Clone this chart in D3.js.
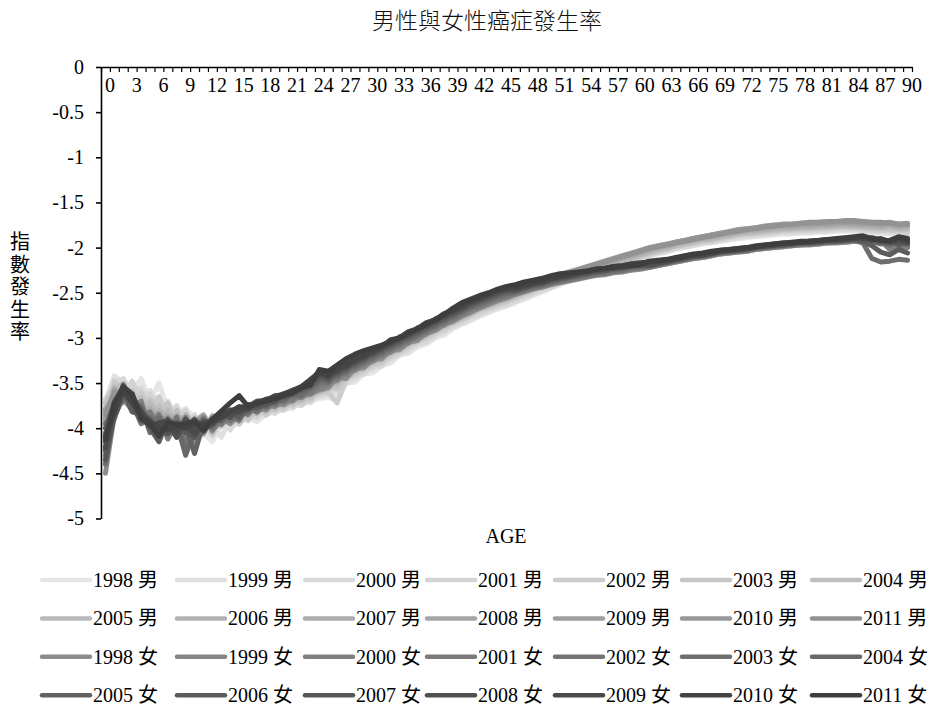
<!DOCTYPE html>
<html>
<head>
<meta charset="utf-8">
<script src="https://cdn.jsdelivr.net/npm/d3@7"></script>
<style>
  html, body { margin: 0; padding: 0; background: #fff; }
  svg { display: block; }
</style>
</head>
<body>
<script>
// Ages 0..90 on the category axis
const ages = d3.range(0, 91);
const ageLabels = ages.filter(a => a % 3 === 0);
const yTicks = [0, -0.5, -1, -1.5, -2, -2.5, -3, -3.5, -4, -4.5, -5];
const years = [1998, 1999, 2000, 2001, 2002, 2003, 2004, 2005, 2006, 2007, 2008, 2009, 2010, 2011];
const sexes = ["男", "女"];

// log10 incidence by age, one array per year and sex
const men1998 = [-3.75,-3.45,-3.48,-3.60,-3.45,-3.70,-3.50,-3.80,-3.85,-3.78,-3.90,-4.05,-4.15,-3.95,-4.00,-3.92,-3.88,-3.93,-3.85,-3.82,-3.80,-3.76,-3.74,-3.70,-3.67,
-3.66,-3.70,-3.50,-3.49,-3.40,-3.39,-3.31,-3.28,-3.19,-3.17,-3.10,-3.07,-3.00,-2.97,-2.90,-2.85,-2.81,-2.76,-2.72,-2.68,
-2.65,-2.61,-2.57,-2.53,-2.49,-2.45,-2.41,-2.37,-2.34,-2.31,-2.28,-2.25,-2.22,-2.19,-2.16,-2.13,-2.10,-2.07,-2.05,-2.02,
-2.00,-1.98,-1.96,-1.95,-1.93,-1.92,-1.90,-1.89,-1.88,-1.87,-1.86,-1.85,-1.85,-1.84,-1.84,-1.83,-1.83,-1.82,-1.82,-1.82,
-1.83,-1.84,-1.84,-1.85,-1.84,-1.86];
const men1999 = [-3.70,-3.42,-3.50,-3.55,-3.65,-3.58,-3.75,-3.70,-3.92,-3.85,-4.00,-3.88,-3.95,-4.10,-3.90,-3.96,-3.85,-3.90,-3.80,-3.84,-3.77,-3.78,-3.70,-3.72,-3.64,
-3.58,-3.62,-3.47,-3.46,-3.38,-3.36,-3.29,-3.25,-3.18,-3.15,-3.08,-3.05,-2.98,-2.94,-2.88,-2.84,-2.79,-2.75,-2.70,-2.67,
-2.64,-2.60,-2.56,-2.52,-2.48,-2.44,-2.40,-2.36,-2.33,-2.30,-2.27,-2.24,-2.21,-2.18,-2.15,-2.12,-2.09,-2.06,-2.04,-2.01,
-1.99,-1.97,-1.95,-1.94,-1.92,-1.91,-1.89,-1.88,-1.87,-1.86,-1.85,-1.84,-1.84,-1.83,-1.83,-1.82,-1.82,-1.81,-1.81,-1.81,
-1.82,-1.83,-1.82,-1.84,-1.83,-1.85];
const men2000 = [-3.80,-3.50,-3.45,-3.62,-3.55,-3.72,-3.68,-3.85,-3.75,-3.95,-3.85,-4.08,-3.92,-3.88,-4.02,-3.85,-3.92,-3.82,-3.86,-3.78,-3.80,-3.72,-3.75,-3.66,-3.65,
-3.62,-3.54,-3.51,-3.42,-3.40,-3.32,-3.31,-3.22,-3.19,-3.12,-3.07,-3.04,-2.97,-2.93,-2.87,-2.83,-2.78,-2.73,-2.70,-2.66,
-2.63,-2.59,-2.55,-2.51,-2.47,-2.44,-2.40,-2.36,-2.33,-2.30,-2.27,-2.24,-2.21,-2.18,-2.15,-2.12,-2.09,-2.06,-2.04,-2.01,
-1.99,-1.97,-1.95,-1.94,-1.92,-1.90,-1.88,-1.87,-1.86,-1.85,-1.84,-1.83,-1.83,-1.82,-1.82,-1.81,-1.81,-1.80,-1.80,-1.80,
-1.81,-1.82,-1.83,-1.82,-1.83,-1.84];
const men2001 = [-3.68,-3.55,-3.60,-3.48,-3.70,-3.62,-3.82,-3.78,-3.88,-3.80,-4.05,-3.92,-4.02,-3.85,-3.95,-3.90,-3.80,-3.88,-3.78,-3.82,-3.74,-3.76,-3.68,-3.70,-3.60,
-3.55,-3.58,-3.45,-3.43,-3.35,-3.33,-3.26,-3.22,-3.15,-3.12,-3.05,-3.02,-2.95,-2.91,-2.85,-2.81,-2.76,-2.71,-2.68,-2.64,
-2.61,-2.57,-2.53,-2.49,-2.45,-2.43,-2.39,-2.35,-2.32,-2.29,-2.26,-2.23,-2.20,-2.17,-2.14,-2.11,-2.08,-2.05,-2.03,-2.00,
-1.98,-1.96,-1.94,-1.93,-1.91,-1.89,-1.87,-1.86,-1.85,-1.84,-1.83,-1.82,-1.82,-1.81,-1.81,-1.80,-1.80,-1.79,-1.79,-1.79,
-1.80,-1.81,-1.80,-1.82,-1.81,-1.83];
const men2002 = [-3.85,-3.48,-3.58,-3.70,-3.60,-3.80,-3.65,-3.90,-3.82,-3.98,-3.88,-3.95,-4.08,-3.90,-3.85,-3.95,-3.84,-3.78,-3.85,-3.76,-3.79,-3.70,-3.73,-3.64,-3.62,
-3.60,-3.72,-3.46,-3.39,-3.37,-3.29,-3.28,-3.19,-3.16,-3.09,-3.04,-3.00,-2.94,-2.90,-2.84,-2.80,-2.75,-2.70,-2.67,-2.63,
-2.60,-2.56,-2.52,-2.48,-2.44,-2.42,-2.38,-2.34,-2.31,-2.28,-2.25,-2.22,-2.19,-2.16,-2.13,-2.10,-2.07,-2.04,-2.02,-1.99,
-1.97,-1.95,-1.93,-1.92,-1.90,-1.88,-1.86,-1.85,-1.84,-1.83,-1.82,-1.81,-1.81,-1.80,-1.80,-1.79,-1.79,-1.78,-1.78,-1.78,
-1.79,-1.80,-1.81,-1.80,-1.82,-1.81];
const men2003 = [-3.72,-3.52,-3.62,-3.58,-3.78,-3.68,-3.86,-3.72,-3.95,-3.86,-3.98,-4.02,-3.88,-3.98,-3.86,-3.82,-3.90,-3.80,-3.75,-3.80,-3.72,-3.74,-3.66,-3.68,-3.58,
-3.52,-3.56,-3.42,-3.40,-3.32,-3.30,-3.23,-3.19,-3.12,-3.09,-3.02,-2.99,-2.92,-2.88,-2.83,-2.79,-2.74,-2.69,-2.66,-2.62,
-2.59,-2.55,-2.51,-2.47,-2.43,-2.41,-2.37,-2.33,-2.30,-2.27,-2.24,-2.21,-2.18,-2.15,-2.12,-2.09,-2.06,-2.03,-2.01,-1.98,
-1.96,-1.94,-1.92,-1.91,-1.89,-1.87,-1.85,-1.84,-1.83,-1.82,-1.81,-1.80,-1.80,-1.79,-1.79,-1.78,-1.78,-1.77,-1.77,-1.77,
-1.78,-1.79,-1.78,-1.80,-1.79,-1.80];
const men2004 = [-3.90,-3.58,-3.50,-3.72,-3.66,-3.85,-3.75,-3.95,-3.80,-4.05,-3.92,-3.85,-4.00,-3.86,-3.92,-3.80,-3.86,-3.76,-3.82,-3.72,-3.76,-3.68,-3.70,-3.62,-3.60,
-3.57,-3.48,-3.45,-3.36,-3.34,-3.26,-3.25,-3.16,-3.13,-3.06,-3.01,-2.97,-2.91,-2.87,-2.82,-2.78,-2.73,-2.68,-2.65,-2.61,
-2.58,-2.54,-2.50,-2.46,-2.42,-2.41,-2.37,-2.33,-2.30,-2.27,-2.24,-2.21,-2.18,-2.15,-2.12,-2.09,-2.06,-2.03,-2.01,-1.98,
-1.96,-1.94,-1.92,-1.91,-1.89,-1.87,-1.85,-1.84,-1.83,-1.82,-1.81,-1.80,-1.79,-1.79,-1.78,-1.78,-1.77,-1.77,-1.76,-1.77,
-1.77,-1.78,-1.79,-1.78,-1.80,-1.79];
const men2005 = [-3.78,-3.60,-3.66,-3.64,-3.82,-3.72,-3.90,-3.80,-3.98,-3.90,-4.02,-3.94,-3.90,-3.95,-3.82,-3.88,-3.78,-3.84,-3.72,-3.78,-3.70,-3.72,-3.64,-3.65,-3.56,
-3.49,-3.52,-3.38,-3.37,-3.29,-3.27,-3.20,-3.16,-3.09,-3.06,-2.99,-2.96,-2.89,-2.85,-2.81,-2.77,-2.72,-2.67,-2.64,-2.60,
-2.57,-2.53,-2.49,-2.45,-2.41,-2.40,-2.36,-2.32,-2.29,-2.26,-2.23,-2.20,-2.17,-2.14,-2.11,-2.08,-2.05,-2.02,-2.00,-1.97,
-1.95,-1.93,-1.91,-1.90,-1.88,-1.86,-1.84,-1.83,-1.82,-1.81,-1.80,-1.79,-1.79,-1.78,-1.78,-1.77,-1.77,-1.76,-1.76,-1.76,
-1.77,-1.77,-1.78,-1.77,-1.79,-1.78];
const men2006 = [-3.95,-3.55,-3.70,-3.68,-3.75,-3.90,-3.80,-3.88,-4.05,-3.85,-3.96,-4.06,-3.86,-3.92,-3.88,-3.78,-3.84,-3.74,-3.80,-3.70,-3.73,-3.66,-3.68,-3.58,-3.55,
-3.54,-3.45,-3.42,-3.33,-3.31,-3.23,-3.22,-3.13,-3.10,-3.03,-2.98,-2.94,-2.88,-2.84,-2.79,-2.75,-2.70,-2.65,-2.62,-2.58,
-2.55,-2.51,-2.47,-2.43,-2.39,-2.37,-2.34,-2.31,-2.28,-2.25,-2.22,-2.19,-2.16,-2.13,-2.10,-2.07,-2.04,-2.01,-1.99,-1.96,
-1.94,-1.92,-1.90,-1.89,-1.87,-1.85,-1.83,-1.82,-1.81,-1.80,-1.79,-1.78,-1.78,-1.77,-1.77,-1.76,-1.76,-1.75,-1.75,-1.75,
-1.76,-1.76,-1.77,-1.76,-1.78,-1.77];
const men2007 = [-3.82,-3.62,-3.58,-3.75,-3.85,-3.78,-3.92,-3.86,-3.92,-4.08,-3.90,-3.98,-3.94,-3.84,-3.90,-3.84,-3.76,-3.80,-3.70,-3.74,-3.68,-3.69,-3.62,-3.60,-3.52,
-3.46,-3.49,-3.35,-3.34,-3.26,-3.24,-3.17,-3.13,-3.06,-3.03,-2.96,-2.93,-2.86,-2.82,-2.78,-2.74,-2.69,-2.64,-2.61,-2.57,
-2.54,-2.50,-2.46,-2.42,-2.38,-2.36,-2.33,-2.30,-2.27,-2.24,-2.21,-2.18,-2.15,-2.12,-2.09,-2.06,-2.03,-2.00,-1.98,-1.95,
-1.93,-1.91,-1.89,-1.88,-1.86,-1.84,-1.82,-1.81,-1.80,-1.79,-1.78,-1.77,-1.77,-1.76,-1.76,-1.75,-1.75,-1.74,-1.74,-1.74,
-1.75,-1.75,-1.76,-1.75,-1.77,-1.76];
const men2008 = [-3.88,-3.65,-3.72,-3.70,-3.92,-3.82,-3.88,-3.96,-3.86,-3.95,-4.10,-3.90,-3.96,-3.88,-3.82,-3.86,-3.80,-3.72,-3.76,-3.68,-3.70,-3.62,-3.64,-3.56,-3.50,
-3.51,-3.42,-3.39,-3.30,-3.28,-3.20,-3.19,-3.10,-3.07,-3.00,-2.95,-2.91,-2.85,-2.81,-2.77,-2.73,-2.68,-2.63,-2.60,-2.56,
-2.53,-2.49,-2.45,-2.41,-2.37,-2.35,-2.32,-2.29,-2.26,-2.23,-2.20,-2.17,-2.14,-2.11,-2.08,-2.05,-2.02,-1.99,-1.97,-1.94,
-1.92,-1.90,-1.88,-1.87,-1.85,-1.83,-1.81,-1.80,-1.79,-1.78,-1.77,-1.76,-1.76,-1.75,-1.75,-1.74,-1.74,-1.73,-1.73,-1.73,
-1.74,-1.74,-1.75,-1.74,-1.76,-1.75];
const men2009 = [-3.92,-3.58,-3.68,-3.80,-3.78,-3.95,-3.84,-4.00,-3.90,-4.02,-3.94,-3.86,-4.04,-3.82,-3.88,-3.78,-3.82,-3.74,-3.72,-3.70,-3.66,-3.64,-3.60,-3.55,-3.48,
-3.43,-3.46,-3.32,-3.31,-3.23,-3.21,-3.14,-3.10,-3.03,-3.00,-2.93,-2.90,-2.83,-2.79,-2.75,-2.71,-2.67,-2.62,-2.59,-2.55,
-2.52,-2.48,-2.44,-2.40,-2.36,-2.34,-2.31,-2.28,-2.25,-2.22,-2.19,-2.16,-2.13,-2.10,-2.07,-2.04,-2.01,-1.99,-1.97,-1.94,
-1.92,-1.90,-1.88,-1.86,-1.84,-1.83,-1.81,-1.79,-1.78,-1.77,-1.76,-1.75,-1.75,-1.74,-1.74,-1.73,-1.73,-1.72,-1.72,-1.72,
-1.73,-1.73,-1.74,-1.73,-1.75,-1.74];
const men2010 = [-3.80,-3.66,-3.62,-3.74,-3.88,-3.85,-3.96,-3.88,-3.98,-3.92,-3.98,-4.04,-3.90,-3.90,-3.80,-3.82,-3.74,-3.78,-3.70,-3.68,-3.64,-3.62,-3.58,-3.52,-3.46,
-3.48,-3.39,-3.36,-3.27,-3.25,-3.17,-3.16,-3.07,-3.04,-2.97,-2.92,-2.88,-2.82,-2.78,-2.74,-2.70,-2.66,-2.61,-2.58,-2.54,
-2.51,-2.47,-2.43,-2.39,-2.36,-2.33,-2.30,-2.27,-2.24,-2.21,-2.18,-2.15,-2.12,-2.09,-2.06,-2.03,-2.00,-1.98,-1.96,-1.94,
-1.92,-1.90,-1.88,-1.86,-1.84,-1.82,-1.80,-1.79,-1.78,-1.76,-1.75,-1.74,-1.74,-1.73,-1.73,-1.72,-1.72,-1.71,-1.71,-1.71,
-1.72,-1.72,-1.73,-1.72,-1.74,-1.73];
const men2011 = [-3.85,-3.60,-3.65,-3.75,-3.80,-3.90,-3.85,-3.95,-3.90,-4.00,-3.92,-3.98,-3.88,-3.85,-3.80,-3.78,-3.74,-3.76,-3.70,-3.66,-3.62,-3.60,-3.55,-3.50,-3.46,
-3.40,-3.41,-3.31,-3.29,-3.21,-3.18,-3.11,-3.08,-3.01,-2.98,-2.91,-2.88,-2.82,-2.78,-2.73,-2.69,-2.65,-2.61,-2.57,-2.53,
-2.50,-2.46,-2.43,-2.40,-2.37,-2.34,-2.31,-2.28,-2.25,-2.22,-2.19,-2.16,-2.13,-2.10,-2.07,-2.04,-2.01,-1.99,-1.97,-1.95,
-1.93,-1.91,-1.89,-1.87,-1.85,-1.83,-1.82,-1.80,-1.79,-1.77,-1.76,-1.75,-1.74,-1.73,-1.72,-1.72,-1.71,-1.71,-1.70,-1.70,
-1.71,-1.72,-1.72,-1.73,-1.74,-1.74];

const women1998 = [-4.50,-3.85,-3.60,-3.70,-3.80,-3.95,-3.90,-4.05,-3.98,-4.10,-3.95,-4.00,-3.92,-3.88,-3.95,-3.85,-3.82,-3.78,-3.80,-3.72,-3.74,-3.68,-3.65,-3.62,-3.58,
-3.55,-3.44,-3.45,-3.34,-3.33,-3.24,-3.23,-3.14,-3.13,-3.05,-3.03,-2.95,-2.92,-2.85,-2.82,-2.76,-2.72,-2.67,-2.63,-2.59,
-2.56,-2.52,-2.49,-2.46,-2.44,-2.41,-2.39,-2.37,-2.35,-2.33,-2.31,-2.30,-2.28,-2.27,-2.25,-2.24,-2.22,-2.20,-2.18,-2.16,
-2.14,-2.12,-2.11,-2.09,-2.07,-2.06,-2.05,-2.04,-2.02,-2.01,-2.00,-1.99,-1.98,-1.97,-1.97,-1.96,-1.95,-1.95,-1.94,-1.93,
-1.92,-1.95,-1.94,-1.97,-1.96,-1.99];
const women1999 = [-4.20,-3.78,-3.68,-3.62,-3.92,-3.85,-4.05,-3.90,-4.10,-3.95,-4.15,-3.92,-3.98,-3.85,-3.90,-3.88,-3.78,-3.82,-3.74,-3.76,-3.70,-3.70,-3.62,-3.60,-3.55,
-3.49,-3.47,-3.38,-3.36,-3.29,-3.26,-3.19,-3.16,-3.09,-3.06,-2.99,-2.96,-2.89,-2.86,-2.79,-2.75,-2.70,-2.66,-2.62,-2.58,
-2.55,-2.51,-2.48,-2.45,-2.43,-2.40,-2.38,-2.36,-2.34,-2.32,-2.30,-2.29,-2.27,-2.26,-2.24,-2.23,-2.22,-2.20,-2.18,-2.16,
-2.14,-2.12,-2.11,-2.09,-2.07,-2.06,-2.05,-2.04,-2.02,-2.01,-2.00,-1.99,-1.98,-1.97,-1.96,-1.96,-1.95,-1.94,-1.94,-1.93,
-1.94,-1.93,-1.96,-1.95,-1.98,-1.97];
const women2000 = [-4.05,-3.90,-3.55,-3.78,-3.70,-4.00,-3.85,-4.12,-3.92,-4.05,-4.00,-3.88,-4.02,-3.92,-3.84,-3.92,-3.75,-3.80,-3.76,-3.70,-3.72,-3.64,-3.66,-3.58,-3.56,
-3.52,-3.42,-3.41,-3.32,-3.30,-3.22,-3.20,-3.12,-3.10,-3.03,-3.00,-2.93,-2.90,-2.83,-2.80,-2.74,-2.69,-2.65,-2.61,-2.57,
-2.54,-2.51,-2.48,-2.45,-2.43,-2.40,-2.38,-2.36,-2.34,-2.32,-2.30,-2.29,-2.27,-2.26,-2.24,-2.23,-2.21,-2.19,-2.17,-2.15,
-2.13,-2.11,-2.10,-2.08,-2.06,-2.05,-2.04,-2.03,-2.01,-2.00,-1.99,-1.98,-1.97,-1.96,-1.96,-1.95,-1.94,-1.94,-1.93,-1.92,
-1.92,-1.94,-1.92,-2.02,-1.98,-2.00];
const women2001 = [-4.30,-3.75,-3.70,-3.65,-3.88,-3.82,-4.00,-3.95,-4.05,-3.88,-4.10,-4.05,-3.90,-3.96,-3.86,-3.80,-3.85,-3.74,-3.78,-3.72,-3.68,-3.68,-3.60,-3.62,-3.52,
-3.47,-3.45,-3.36,-3.34,-3.27,-3.24,-3.17,-3.14,-3.07,-3.04,-2.97,-2.94,-2.87,-2.84,-2.77,-2.73,-2.68,-2.64,-2.60,-2.56,
-2.53,-2.50,-2.47,-2.44,-2.42,-2.39,-2.37,-2.35,-2.33,-2.31,-2.29,-2.28,-2.26,-2.25,-2.23,-2.22,-2.21,-2.19,-2.17,-2.15,
-2.13,-2.11,-2.10,-2.08,-2.06,-2.05,-2.04,-2.03,-2.01,-2.00,-1.99,-1.98,-1.97,-1.96,-1.96,-1.95,-1.94,-1.94,-1.93,-1.92,
-1.93,-1.92,-1.95,-1.94,-1.96,-1.95];
const women2002 = [-3.95,-3.82,-3.62,-3.72,-3.95,-3.90,-3.92,-4.08,-3.88,-4.20,-3.92,-3.95,-3.98,-3.86,-3.92,-3.84,-3.80,-3.78,-3.72,-3.74,-3.66,-3.65,-3.62,-3.56,-3.50,
-3.50,-3.40,-3.39,-3.30,-3.28,-3.20,-3.18,-3.10,-3.08,-3.01,-2.98,-2.91,-2.88,-2.81,-2.78,-2.72,-2.67,-2.63,-2.59,-2.55,
-2.52,-2.50,-2.47,-2.44,-2.42,-2.39,-2.37,-2.35,-2.33,-2.31,-2.29,-2.28,-2.26,-2.25,-2.23,-2.22,-2.21,-2.19,-2.17,-2.15,
-2.13,-2.11,-2.10,-2.08,-2.06,-2.05,-2.04,-2.03,-2.01,-2.00,-1.99,-1.98,-1.97,-1.96,-1.95,-1.95,-1.94,-1.93,-1.93,-1.92,
-1.91,-1.93,-1.94,-1.96,-1.93,-1.97];
const women2003 = [-4.40,-3.70,-3.58,-3.80,-3.75,-4.05,-3.88,-3.98,-4.02,-3.92,-4.05,-3.90,-4.00,-3.84,-3.88,-3.90,-3.76,-3.82,-3.70,-3.70,-3.68,-3.62,-3.64,-3.54,-3.48,
-3.45,-3.43,-3.34,-3.32,-3.25,-3.22,-3.15,-3.12,-3.05,-3.02,-2.95,-2.92,-2.85,-2.82,-2.75,-2.71,-2.66,-2.62,-2.58,-2.54,
-2.51,-2.49,-2.46,-2.43,-2.41,-2.38,-2.36,-2.34,-2.32,-2.30,-2.28,-2.27,-2.25,-2.24,-2.22,-2.21,-2.20,-2.18,-2.16,-2.14,
-2.12,-2.10,-2.09,-2.07,-2.05,-2.04,-2.03,-2.02,-2.00,-1.99,-1.98,-1.97,-1.96,-1.95,-1.95,-1.94,-1.93,-1.93,-1.92,-1.91,
-1.95,-2.12,-2.16,-2.15,-2.13,-2.14];
const women2004 = [-4.10,-3.88,-3.65,-3.68,-3.90,-3.88,-4.12,-3.92,-3.95,-4.30,-4.02,-3.98,-3.92,-3.90,-3.82,-3.86,-3.82,-3.72,-3.76,-3.68,-3.70,-3.60,-3.60,-3.55,-3.46,
-3.48,-3.38,-3.37,-3.28,-3.26,-3.18,-3.16,-3.08,-3.06,-2.99,-2.96,-2.89,-2.86,-2.79,-2.76,-2.70,-2.65,-2.61,-2.57,-2.53,
-2.50,-2.48,-2.45,-2.42,-2.40,-2.37,-2.35,-2.33,-2.31,-2.29,-2.27,-2.26,-2.24,-2.23,-2.21,-2.20,-2.20,-2.18,-2.16,-2.14,
-2.12,-2.10,-2.09,-2.07,-2.05,-2.04,-2.03,-2.02,-2.00,-1.99,-1.98,-1.97,-1.96,-1.95,-1.95,-1.94,-1.93,-1.93,-1.92,-1.91,
-1.92,-1.91,-1.94,-1.97,-1.93,-1.96];
const women2005 = [-4.25,-3.80,-3.52,-3.75,-3.82,-3.98,-3.95,-4.00,-4.08,-3.98,-4.28,-3.94,-3.96,-3.88,-3.86,-3.82,-3.78,-3.76,-3.70,-3.72,-3.64,-3.63,-3.58,-3.52,-3.45,
-3.43,-3.41,-3.32,-3.30,-3.23,-3.20,-3.13,-3.10,-3.03,-3.00,-2.93,-2.90,-2.83,-2.80,-2.73,-2.69,-2.64,-2.60,-2.56,-2.52,
-2.49,-2.48,-2.45,-2.42,-2.40,-2.37,-2.35,-2.33,-2.31,-2.29,-2.27,-2.26,-2.24,-2.23,-2.21,-2.20,-2.20,-2.18,-2.16,-2.14,
-2.12,-2.10,-2.09,-2.07,-2.05,-2.04,-2.03,-2.02,-2.00,-1.99,-1.98,-1.97,-1.96,-1.95,-1.94,-1.94,-1.93,-1.92,-1.92,-1.91,
-1.90,-1.93,-1.95,-1.93,-1.97,-1.95];
const women2006 = [-4.00,-3.72,-3.60,-3.82,-3.85,-4.00,-4.15,-3.90,-4.00,-4.05,-3.90,-4.02,-3.90,-3.92,-3.80,-3.88,-3.74,-3.78,-3.72,-3.66,-3.66,-3.62,-3.56,-3.54,-3.42,
-3.46,-3.36,-3.35,-3.26,-3.24,-3.16,-3.14,-3.06,-3.04,-2.97,-2.94,-2.87,-2.84,-2.77,-2.74,-2.68,-2.63,-2.59,-2.55,-2.51,
-2.48,-2.47,-2.44,-2.41,-2.39,-2.36,-2.34,-2.32,-2.30,-2.28,-2.26,-2.25,-2.23,-2.22,-2.20,-2.19,-2.20,-2.18,-2.16,-2.14,
-2.12,-2.10,-2.09,-2.07,-2.05,-2.04,-2.03,-2.02,-2.00,-1.99,-1.98,-1.97,-1.96,-1.95,-1.95,-1.94,-1.93,-1.93,-1.92,-1.91,
-1.93,-1.98,-2.05,-2.08,-2.02,-2.06];
const women2007 = [-4.35,-3.86,-3.62,-3.70,-3.92,-3.92,-4.02,-4.06,-3.94,-4.02,-4.10,-3.92,-3.94,-3.86,-3.84,-3.80,-3.80,-3.74,-3.74,-3.70,-3.62,-3.60,-3.57,-3.50,-3.42,
-3.41,-3.39,-3.30,-3.28,-3.21,-3.18,-3.11,-3.08,-3.01,-2.98,-2.91,-2.88,-2.81,-2.78,-2.71,-2.67,-2.62,-2.58,-2.54,-2.50,
-2.47,-2.47,-2.44,-2.41,-2.39,-2.36,-2.34,-2.32,-2.30,-2.28,-2.26,-2.25,-2.23,-2.22,-2.20,-2.19,-2.19,-2.17,-2.15,-2.13,
-2.11,-2.09,-2.08,-2.06,-2.04,-2.03,-2.02,-2.01,-1.99,-1.98,-1.97,-1.96,-1.95,-1.94,-1.94,-1.93,-1.92,-1.92,-1.91,-1.90,
-1.91,-1.90,-1.93,-1.92,-1.95,-1.94];
const women2008 = [-4.15,-3.76,-3.56,-3.66,-3.80,-3.94,-3.98,-3.96,-4.10,-3.90,-4.00,-4.00,-3.96,-3.84,-3.88,-3.78,-3.76,-3.70,-3.70,-3.66,-3.64,-3.58,-3.55,-3.48,-3.40,
-3.44,-3.34,-3.33,-3.24,-3.22,-3.14,-3.12,-3.04,-3.02,-2.95,-2.92,-2.85,-2.82,-2.75,-2.72,-2.66,-2.61,-2.57,-2.53,-2.49,
-2.46,-2.46,-2.43,-2.40,-2.38,-2.35,-2.33,-2.31,-2.29,-2.27,-2.25,-2.24,-2.22,-2.21,-2.19,-2.18,-2.19,-2.17,-2.15,-2.13,
-2.11,-2.09,-2.08,-2.06,-2.04,-2.03,-2.02,-2.01,-1.99,-1.98,-1.97,-1.96,-1.95,-1.94,-1.94,-1.93,-1.92,-1.92,-1.91,-1.90,
-1.89,-1.92,-1.91,-1.94,-1.92,-1.95];
const women2009 = [-4.22,-3.74,-3.60,-3.64,-3.84,-3.98,-3.94,-3.92,-4.04,-3.96,-4.06,-3.94,-3.94,-3.86,-3.80,-3.82,-3.74,-3.74,-3.70,-3.64,-3.63,-3.59,-3.54,-3.47,-3.40,
-3.39,-3.37,-3.28,-3.26,-3.19,-3.16,-3.09,-3.06,-2.99,-2.96,-2.89,-2.86,-2.79,-2.76,-2.69,-2.65,-2.60,-2.56,-2.52,-2.48,
-2.45,-2.45,-2.42,-2.39,-2.37,-2.34,-2.32,-2.30,-2.28,-2.26,-2.24,-2.23,-2.21,-2.20,-2.18,-2.17,-2.16,-2.15,-2.14,-2.12,
-2.10,-2.09,-2.08,-2.06,-2.04,-2.03,-2.02,-2.01,-1.99,-1.98,-1.97,-1.96,-1.95,-1.94,-1.93,-1.93,-1.92,-1.91,-1.91,-1.90,
-1.90,-1.89,-1.92,-1.94,-1.91,-1.93];
const women2010 = [-4.08,-3.82,-3.58,-3.72,-3.86,-3.92,-4.00,-4.02,-3.98,-4.00,-3.95,-3.96,-3.92,-3.88,-3.82,-3.76,-3.78,-3.72,-3.68,-3.66,-3.62,-3.58,-3.54,-3.46,-3.38,
-3.42,-3.32,-3.31,-3.22,-3.20,-3.12,-3.10,-3.02,-3.00,-2.93,-2.90,-2.83,-2.80,-2.73,-2.70,-2.64,-2.59,-2.55,-2.51,-2.47,
-2.45,-2.43,-2.41,-2.39,-2.37,-2.34,-2.32,-2.30,-2.28,-2.26,-2.24,-2.23,-2.21,-2.20,-2.18,-2.17,-2.16,-2.15,-2.14,-2.12,
-2.10,-2.08,-2.07,-2.05,-2.03,-2.02,-2.01,-2.00,-1.98,-1.97,-1.96,-1.95,-1.94,-1.93,-1.93,-1.92,-1.91,-1.91,-1.90,-1.89,
-1.88,-1.91,-1.90,-1.93,-1.90,-1.92];
const women2011 = [-4.13,-3.72,-3.54,-3.62,-3.89,-3.96,-4.09,-3.94,-3.96,-3.95,-3.92,-4.03,-3.90,-3.81,-3.72,-3.64,-3.76,-3.72,-3.70,-3.68,-3.64,-3.61,-3.55,-3.52,-3.35,
-3.37,-3.30,-3.23,-3.18,-3.14,-3.11,-3.08,-3.04,-3.00,-2.95,-2.90,-2.85,-2.80,-2.74,-2.67,-2.61,-2.57,-2.53,-2.50,-2.46,
-2.43,-2.41,-2.38,-2.36,-2.34,-2.31,-2.29,-2.28,-2.27,-2.26,-2.24,-2.23,-2.22,-2.21,-2.20,-2.19,-2.15,-2.14,-2.13,-2.11,
-2.09,-2.07,-2.06,-2.04,-2.03,-2.02,-2.01,-2.00,-1.99,-1.97,-1.96,-1.95,-1.95,-1.94,-1.93,-1.92,-1.91,-1.90,-1.89,-1.88,
-1.87,-1.90,-1.92,-1.92,-1.88,-1.90];

const menSeries = [men1998, men1999, men2000, men2001, men2002, men2003, men2004,
                   men2005, men2006, men2007, men2008, men2009, men2010, men2011];
const womenSeries = [women1998, women1999, women2000, women2001, women2002, women2003, women2004,
                     women2005, women2006, women2007, women2008, women2009, women2010, women2011];

// Series in drawing / legend order: all men, then all women
const series = [];
years.forEach((yr, i) => series.push({ name: yr + " " + sexes[0], values: menSeries[i], sex: 0, idx: i }));
years.forEach((yr, i) => series.push({ name: yr + " " + sexes[1], values: womenSeries[i], sex: 1, idx: i }));

// Grey ramp: men light to mid, women mid to dark
function shade(s) {
  const t = s.idx / 13;
  const g = s.sex === 0 ? 230 - t * 84 : 140 - t * 78;
  const v = Math.round(g);
  return `rgb(${v},${v},${v})`;
}

const W = 930, H = 711;
const serif = "'Liberation Serif', 'Times New Roman', 'Noto Sans CJK TC', serif";
const cjk = "'Noto Sans CJK TC', 'Noto Sans CJK SC', sans-serif";

const svg = d3.select("body").append("svg")
  .attr("width", W).attr("height", H)
  .attr("viewBox", `0 0 ${W} ${H}`);

const plotL = 101, plotR = 912, plotT = 67, plotB = 518.5;

const x = d3.scaleBand().domain(ages).range([plotL, plotR]).paddingInner(0).paddingOuter(0);
const xEdge = d3.scaleLinear().domain([0, ages.length]).range([plotL, plotR]);
const y = d3.scaleLinear().domain([-5, 0]).range([plotB, plotT]);
const cx = a => x(a) + x.bandwidth() / 2;

// Title
svg.append("text")
  .attr("x", 487).attr("y", 29)
  .attr("text-anchor", "middle")
  .style("font-family", cjk).style("font-size", "23px").style("font-weight", 300).style("fill", "#111")
  .text("男性與女性癌症發生率");

// Data lines
const line = d3.line()
  .x((d, i) => cx(ages[i]))
  .y(d => y(d));

svg.append("g").selectAll("path")
  .data(series)
  .join("path")
  .attr("d", d => line(d.values))
  .attr("fill", "none")
  .attr("stroke", d => shade(d))
  .attr("stroke-width", 5)
  .attr("stroke-linejoin", "round")
  .attr("stroke-linecap", "round");

// Y axis
const yAxis = svg.append("g")
  .attr("transform", `translate(${plotL},0)`)
  .call(d3.axisLeft(y).tickValues(yTicks).tickSize(5).tickSizeOuter(0).tickPadding(12)
    .tickFormat(d => String(d)));
yAxis.select(".domain").attr("stroke", "#000").attr("stroke-width", 1.6);
yAxis.selectAll(".tick line").attr("stroke", "#000").attr("stroke-width", 1.6);
yAxis.selectAll(".tick text")
  .style("font-family", serif).style("font-size", "20px").style("fill", "#000");

// X axis along the top edge: tick marks between categories
const xTickAxis = svg.append("g")
  .attr("transform", `translate(0,${plotT})`)
  .call(d3.axisBottom(xEdge).tickValues(d3.range(ages.length + 1)).tickSize(5).tickSizeOuter(0).tickFormat(""));
xTickAxis.select(".domain").attr("stroke", "#000").attr("stroke-width", 1.6);
xTickAxis.selectAll(".tick line").attr("stroke", "#000").attr("stroke-width", 1.2);

// Category labels every third age
const xLabelAxis = svg.append("g")
  .attr("transform", `translate(4.5,${plotT})`)
  .call(d3.axisBottom(x).tickValues(ageLabels).tickSize(0).tickPadding(11));
xLabelAxis.select(".domain").remove();
xLabelAxis.selectAll(".tick text")
  .style("font-family", serif).style("font-size", "20px").style("fill", "#000");

// Axis titles
svg.append("text")
  .attr("x", 506).attr("y", 543)
  .attr("text-anchor", "middle")
  .style("font-family", serif).style("font-size", "20px").style("fill", "#000")
  .text("AGE");

// Vertical axis title, characters stacked upright
svg.append("text")
  .attr("transform", "translate(20,288)")
  .attr("text-anchor", "middle")
  .style("writing-mode", "vertical-rl")
  .style("text-orientation", "upright")
  .style("letter-spacing", "2.5px")
  .style("font-family", cjk).style("font-size", "20px").style("fill", "#000")
  .text("指數發生率");

// Legend: 4 rows x 7 columns
const legendCols = [42, 177, 305, 427, 555, 682, 812];
const legendRow0 = 580, legendRowStep = 38.4;
const lg = svg.append("g").selectAll("g")
  .data(series)
  .join("g")
  .attr("transform", (d, i) => `translate(${legendCols[i % 7]},${legendRow0 + Math.floor(i / 7) * legendRowStep})`);
lg.append("line")
  .attr("x1", 0).attr("x2", 48).attr("y1", 0).attr("y2", 0)
  .attr("stroke", d => shade(d)).attr("stroke-width", 4.5).attr("stroke-linecap", "round");
lg.append("text")
  .attr("x", 51).attr("y", 7)
  .style("font-family", serif).style("font-size", "20px").style("fill", "#000")
  .text(d => d.name);
</script>
</body>
</html>
